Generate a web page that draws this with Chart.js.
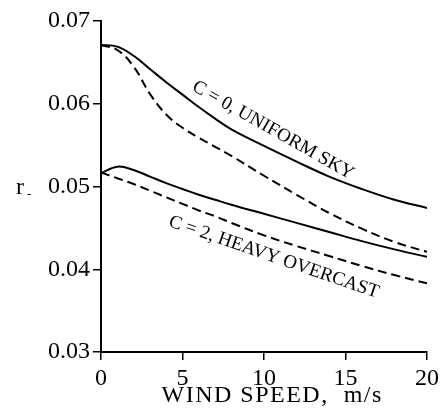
<!DOCTYPE html>
<html>
<head>
<meta charset="utf-8">
<script src="https://cdn.jsdelivr.net/npm/chart.js@4.4.1/dist/chart.umd.min.js"></script>
<style>
  html, body { margin: 0; padding: 0; background: #fff; }
  #wrap { width: 443px; height: 418px; position: relative; }
</style>
</head>
<body>
<div id="wrap"><canvas id="chart"></canvas></div>
<script>
// wind speed, m/s
const windSpeed = [0, 1, 2, 3, 4, 5, 6, 7, 8, 10, 12, 14, 16, 18, 20];

// C = 0, uniform sky
const clearSolid  = [0.0671, 0.0669, 0.0658, 0.0642, 0.0626, 0.0611, 0.0596, 0.0582, 0.0569, 0.0549, 0.0530, 0.0512, 0.0497, 0.0484, 0.0474];
const clearDashed = [0.0671, 0.0665, 0.0645, 0.0612, 0.0587, 0.0571, 0.0559, 0.0548, 0.0537, 0.0513, 0.0490, 0.0468, 0.0449, 0.0433, 0.0421];

// C = 2, heavy overcast
const overcastSolid  = [0.0516, 0.0524, 0.0520, 0.0512, 0.0504, 0.0497, 0.0490, 0.0484, 0.0478, 0.0467, 0.0456, 0.0445, 0.0434, 0.0424, 0.0415];
const overcastDashed = [0.0517, 0.0510, 0.0503, 0.0495, 0.0487, 0.0479, 0.0471, 0.0464, 0.0456, 0.0441, 0.0428, 0.0416, 0.0404, 0.0393, 0.0383];

const xTicks = [0, 5, 10, 15, 20];
const yTicks = [0.03, 0.04, 0.05, 0.06, 0.07];

const xTitle = 'WIND SPEED,  m/s';
const yTitle = 'r';

// curve labels placed along the lines: [text, wind speed, r, angle in degrees]
const curveLabels = [
  ['C = 0, UNIFORM SKY', 10.55, 0.0568, 29.5],
  ['C = 2, HEAVY OVERCAST', 10.6, 0.04146, 19]
];

const serif = "'Liberation Serif', 'DejaVu Serif', serif";

function pts(ys) {
  return windSpeed.map((x, i) => ({ x, y: ys[i] }));
}

function line(data, dashed) {
  return {
    data: pts(data),
    borderColor: '#000',
    borderWidth: 2,
    borderDash: dashed ? [9, 5] : [],
    pointRadius: 0,
    tension: 0.4,
    fill: false
  };
}

const textPlugin = {
  id: 'texts',
  afterDraw(chart) {
    const { ctx, scales } = chart;
    const xs = scales.x, ys = scales.y;
    ctx.save();
    ctx.fillStyle = '#000';

    curveLabels.forEach(([text, wx, wy, angle]) => {
      ctx.save();
      ctx.translate(xs.getPixelForValue(wx), ys.getPixelForValue(wy));
      ctx.rotate(angle * Math.PI / 180);
      ctx.font = '19px ' + serif;
      ctx.textAlign = 'center';
      ctx.textBaseline = 'middle';
      ctx.fillText(text, 0, 0);
      ctx.restore();
    });

    // x axis title
    ctx.font = '24px ' + serif;
    ctx.letterSpacing = '1.5px';
    ctx.textAlign = 'center';
    ctx.textBaseline = 'alphabetic';
    ctx.fillText(xTitle, xs.getPixelForValue(10.5), 402);
    ctx.letterSpacing = '0px';

    // y axis symbol with a small subscript dash
    ctx.textAlign = 'left';
    ctx.fillText(yTitle, 16, 194);
    ctx.font = '13px ' + serif;
    ctx.fillText('-', 27, 198);
    ctx.restore();
  }
};

new Chart(document.getElementById('chart'), {
  type: 'line',
  data: {
    datasets: [
      line(clearSolid, false),
      line(clearDashed, true),
      line(overcastSolid, false),
      line(overcastDashed, true)
    ]
  },
  options: {
    responsive: true,
    maintainAspectRatio: false,
    animation: false,
    layout: { padding: { left: 0, right: 13, top: 21, bottom: 0 } },
    plugins: {
      legend: { display: false },
      tooltip: { enabled: false }
    },
    scales: {
      x: {
        type: 'linear',
        min: 0,
        max: 20,
        afterBuildTicks: s => { s.ticks = xTicks.map(v => ({ value: v })); },
        afterFit: s => { s.height = 66; },
        border: { display: true, color: '#000', width: 2 },
        grid: { drawOnChartArea: false, drawTicks: true, tickLength: 8, color: '#000', lineWidth: 1.5 },
        ticks: { color: '#000', padding: 4, maxRotation: 0, font: { family: serif, size: 24 } }
      },
      y: {
        type: 'linear',
        min: 0.03,
        max: 0.07,
        afterBuildTicks: s => { s.ticks = yTicks.map(v => ({ value: v })); },
        afterFit: s => { s.width = 101; },
        border: { display: true, color: '#000', width: 2 },
        grid: { drawOnChartArea: false, drawTicks: true, tickLength: 8, color: '#000', lineWidth: 1.5 },
        ticks: {
          color: '#000',
          padding: 3,
          font: { family: serif, size: 24 },
          callback: v => v.toFixed(2)
        }
      }
    }
  },
  plugins: [textPlugin]
});
</script>
</body>
</html>
